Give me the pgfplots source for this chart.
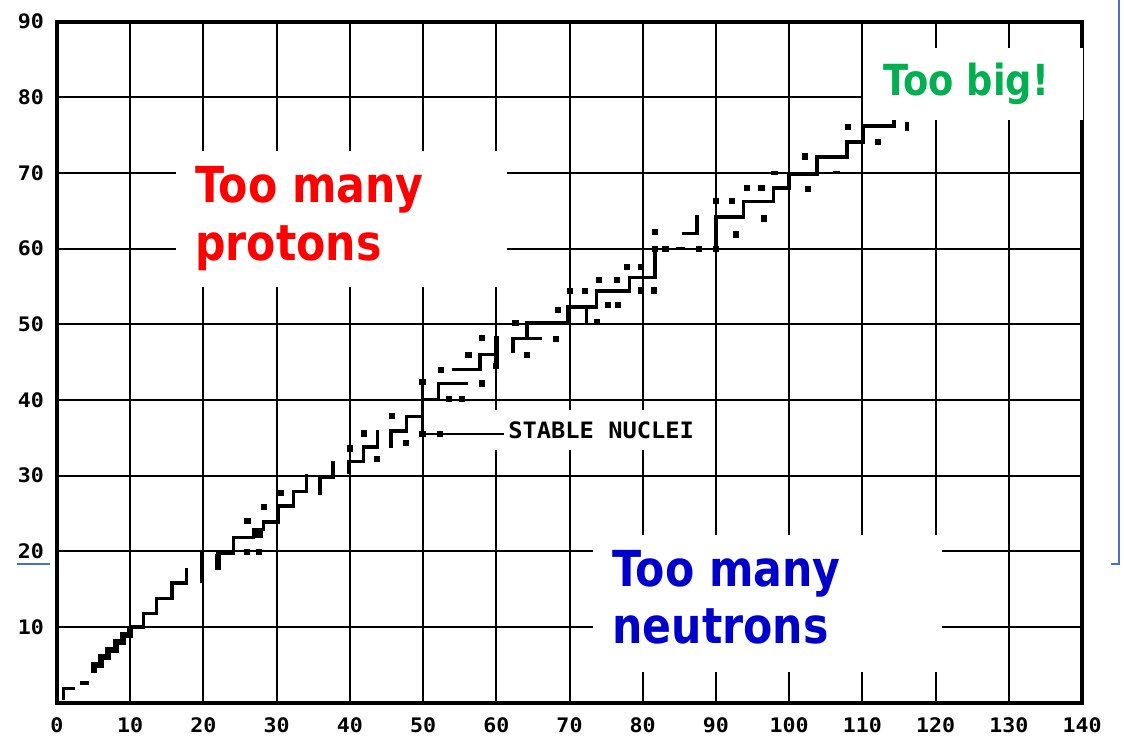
\documentclass[border=0pt]{standalone}
\usepackage{fontspec}
\usepackage{pgfplots}
\pgfplotsset{compat=1.18}
\setmainfont{DejaVu Sans}
\newfontfamily\monofont[FakeStretch=1.05]{DejaVu Sans Mono Bold}
\newfontfamily\tickfont[FakeStretch=1.08]{DejaVu Sans Mono Bold}
\newfontfamily\labfont[FakeStretch=0.86]{DejaVu Sans Bold}
\definecolor{pred}{RGB}{255,0,0}
\definecolor{nblue}{RGB}{0,0,204}
\definecolor{bgreen}{RGB}{0,176,80}
\definecolor{slideblue}{RGB}{68,114,196}
\begin{document}
\begin{tikzpicture}
\useasboundingbox (-28.5pt,-16.15pt) rectangle (533.5pt,351.35pt);
\fill[white] (-28.5pt,-16.15pt) rectangle (533.5pt,351.35pt);
\draw[slideblue, line width=1pt] (531pt,351.35pt) -- (531pt,69.35pt) -- (527pt,69.35pt);
\draw[slideblue, line width=1pt] (-20pt,69.35pt) -- (-3.5pt,69.35pt);
\begin{axis}[
  at={(0pt,0pt)}, anchor=south west,
  width=512.5pt, height=340.5pt, scale only axis,
  xmin=0, xmax=140, ymin=0, ymax=90,
  xtick={0,10,...,140}, ytick={10,20,...,90},
  grid=major, major grid style={black, line width=1pt},
  axis line style={line width=2.2pt},
  major tick length=0pt,
  tick label style={font=\tickfont\fontsize{10}{12}\selectfont},
  /pgf/number format/assume math mode=true,
  xticklabel style={inner ysep=1pt, yshift=-6.2pt},
  yticklabel style={xshift=-3pt},
  clip=false,
]
% stable-nuclei staircase segments
\addplot[black, line width=1.7pt] coordinates {(0.9,0.4) (0.9,1.9) (2.4,1.9)};
\addplot[black, line width=1.7pt] coordinates {(3.1,2.6) (4.4,2.6)};
\addplot[black, line width=3pt] coordinates {(5,3.9) (5,5) (6,5) (6,6) (7,6) (7,7) (8,7) (8,8) (9,8) (9,9) (10,9) (10,10)};
\addplot[black, line width=1.7pt] coordinates {(10,10) (11.8,10) (11.8,11.8) (13.6,11.8) (13.6,13.8) (15.7,13.8) (15.7,15.8) (17.7,15.8) (17.7,17.8)};
\addplot[black, line width=1.7pt] coordinates {(19.8,15.8) (19.8,20.2)};
\addplot[black, line width=1.7pt] coordinates {(22,17.5) (22,19.8) (24.1,19.8) (24.1,21.8) (26.8,21.8) (26.8,22.9) (28.2,22.9) (28.2,23.9) (30.2,23.9) (30.2,26.0) (32.3,26.0) (32.3,27.9) (34.1,27.9) (34.1,30.2)};
\addplot[black, line width=2.6pt] coordinates {(22,17.5) (22,19.6)};
\addplot[black, line width=4pt] coordinates {(26.6,22.35) (28.2,22.35)};
\addplot[black, line width=1.7pt] coordinates {(35.9,27.4) (35.9,29.8) (37.7,29.8) (37.7,31.9)};
\addplot[black, line width=1.7pt] coordinates {(39.9,30.2) (39.9,31.9) (41.9,31.9) (41.9,33.8) (43.8,33.8) (43.8,36.0)};
\addplot[black, line width=1.7pt] coordinates {(45.6,33.6) (45.6,35.9) (47.7,35.9) (47.7,37.8) (49.9,37.8) (49.9,40.1) (52.1,40.1) (52.1,42.2) (56.2,42.2)};
\addplot[black, line width=1.7pt] coordinates {(49.9,35.5) (49.9,42.4)};
\addplot[black, line width=1.7pt] coordinates {(53.9,44.0) (57.8,44.0) (57.8,46.0) (60.0,46.0) (60.0,48.4)};
\addplot[black, line width=2.6pt] coordinates {(60,44.4) (60,48.4)};
\addplot[black, line width=1.7pt] coordinates {(62.3,46.2) (62.3,48.1) (66.2,48.1)};
\addplot[black, line width=1.7pt] coordinates {(64.2,48.1) (64.2,50.2) (69.8,50.2) (69.8,52.3) (73.7,52.3) (73.7,54.4) (78.2,54.4) (78.2,56.2) (81.7,56.2) (81.7,60)};
\addplot[black, line width=1.7pt] coordinates {(72.3,50.2) (72.3,52.3)};
\addplot[black, line width=1.7pt] coordinates {(84.6,60) (85.8,60)};
\addplot[black, line width=1.7pt] coordinates {(85.4,62.0) (87.4,62.0) (87.4,64.5)};
\addplot[black, line width=1.7pt] coordinates {(90,60) (90,64.2) (93.8,64.2) (93.8,66.2) (97.9,66.2) (97.9,68) (100,68) (100,69.9) (103.8,69.9) (103.8,72.1) (107.9,72.1) (107.9,74.1) (110.1,74.1) (110.1,76.2) (114.3,76.2) (114.3,77)};
\addplot[black, line width=1.7pt] coordinates {(97.5,70) (98.5,70)};
\addplot[black, line width=1.7pt] coordinates {(106,70.1) (107,70.1)};
\addplot[black, line width=1.7pt] coordinates {(116.1,75.6) (116.1,76.8)};
% isolated nuclei
\addplot[only marks, mark=square*, mark size=1.3pt, black] coordinates {
(25.9,19.9) (27.6,19.9) (26.0,24.0) (28.3,25.9) (30.5,27.7) (40.0,33.6) (41.9,35.6)
(43.7,32.2) (45.7,37.9) (47.6,34.3) (49.9,35.5) (52.3,35.5) (49.9,42.4) (53.5,40.1)
(55.3,40.1) (58.0,42.2) (52.4,44.0) (56.2,46.0) (58.0,48.2) (60.0,44.5) (64.2,46.0)
(68.1,48.1) (62.6,50.2) (68.4,51.9) (73.7,50.3) (75.2,52.6) (76.6,52.6) (70.0,54.4)
(72.1,54.4) (74.0,55.9) (76.5,55.9) (77.8,57.6) (79.8,57.6) (79.8,54.5) (81.5,54.5)
(81.7,60.0) (83.1,60.0) (87.7,60.0) (90.0,60.0) (81.7,62.2) (92.7,61.9) (96.5,64.0)
(90.0,66.3) (92.2,66.3) (94.2,68.0) (96.2,68.0) (102.6,67.9) (102.1,72.2) (108.0,76.1)
(112.1,74.1)};
% label
\node[fill=white, anchor=west, inner xsep=8pt, inner ysep=5.8pt, font=\monofont\fontsize{11.3}{13}\selectfont] at (axis cs:59.4,36.0) {STABLE NUCLEI};
\addplot[black, line width=1pt] coordinates {(49.9,35.5) (61.0,35.5)};
% overlay boxes
\fill[white] (axis cs:16.3,55.0) rectangle (axis cs:61.4,72.95);
\node[anchor=base west, inner sep=0pt, text=pred, font=\labfont\fontsize{24.8}{30}\selectfont] at (axis cs:18.85,66.1) {Too many};
\node[anchor=base west, inner sep=0pt, text=pred, font=\labfont\fontsize{24.8}{30}\selectfont] at (axis cs:18.85,58.5) {protons};
\fill[white] (axis cs:73.2,4.1) rectangle (axis cs:120.9,22.2);
\node[anchor=base west, inner sep=0pt, text=nblue, font=\labfont\fontsize{24.8}{30}\selectfont] at (axis cs:75.8,15.3) {Too many};
\node[anchor=base west, inner sep=0pt, text=nblue, font=\labfont\fontsize{24.8}{30}\selectfont] at (axis cs:75.8,7.76) {neutrons};
\fill[white] (axis cs:110.1,77.0) rectangle (axis cs:140.1,86.5);
\node[anchor=base west, inner sep=0pt, text=bgreen, font=\labfont\fontsize{21.4}{26}\selectfont] at (axis cs:112.8,80.3) {Too big!};
\end{axis}
\end{tikzpicture}
\end{document}
